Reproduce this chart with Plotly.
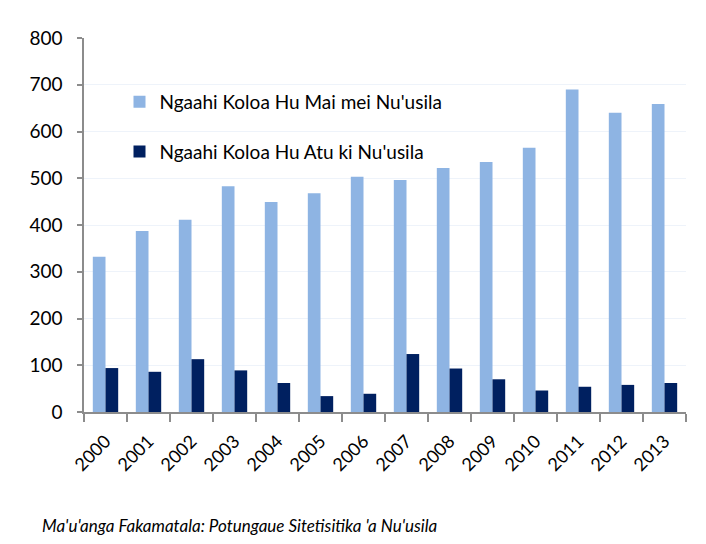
import plotly.graph_objects as go

years = ["2000", "2001", "2002", "2003", "2004", "2005", "2006", "2007",
         "2008", "2009", "2010", "2011", "2012", "2013"]
imports_nz = [332, 387, 411, 483, 449, 468, 503, 496, 522, 535, 565, 690, 640, 659]
exports_nz = [94, 86, 113, 89, 62, 34, 39, 124, 93, 70, 46, 54, 58, 62]

name_imp = "Ngaahi Koloa Hu Mai mei Nu'usila"
name_exp = "Ngaahi Koloa Hu Atu ki Nu'usila"
source = "Ma'u'anga Fakamatala: Potungaue Sitetisitika 'a Nu'usila"

FONT = "Lato, 'Open Sans', sans-serif"

# page body has an 8px margin; figure sized so it fits the window
W, H = 698, 536
L, R, T, B = 76, 20, 30, 132
PW, PH = W - L - R, H - T - B

fig = go.Figure()
fig.add_trace(go.Bar(x=years, y=imports_nz, name=name_imp,
                     marker=dict(color="#8EB4E3", line=dict(width=0)),
                     legendgroup="a"))
fig.add_trace(go.Bar(x=years, y=exports_nz, name=name_exp,
                     marker=dict(color="#002060", line=dict(width=0)),
                     legendgroup="b"))

fig.update_layout(
    width=W, height=H,
    margin=dict(l=L, r=R, t=T, b=B),
    paper_bgcolor="white", plot_bgcolor="white",
    barmode="group", bargap=0.41, bargroupgap=0,
    font=dict(family=FONT, color="#000000", size=18),
    showlegend=True,
    legend=dict(x=(111.5 - L) / PW, y=(PH + T - 75) / PH,
                xanchor="left", yanchor="top",
                bgcolor="rgba(0,0,0,0)", font=dict(size=19, family=FONT),
                tracegroupgap=22, itemwidth=30),
    xaxis=dict(type="category", tickangle=-45, showline=True,
               linecolor="#8C8C8C", linewidth=1.5, ticks="outside",
               tickson="boundaries", ticklen=8, tickcolor="#8C8C8C",
               tickwidth=1.5, showgrid=False, ticklabelstandoff=10,
               tickfont=dict(size=18, family=FONT)),
    yaxis=dict(range=[0, 800], dtick=100, showline=True,
               linecolor="#8C8C8C", linewidth=1.5, ticks="outside",
               ticklen=5, tickcolor="#8C8C8C", tickwidth=1.5,
               showgrid=True, gridcolor="#EEF3FA", gridwidth=1,
               zeroline=False, ticklabelstandoff=11,
               tickfont=dict(size=19, family=FONT)),
    annotations=[
        dict(text="<i>" + source + "</i>", xref="paper", yref="paper",
             x=(32 - L) / PW, y=(PH + T - 517) / PH,
             xanchor="left", yanchor="middle", showarrow=False,
             font=dict(size=17, family=FONT, color="#000000")),
    ],
)

fig.write_html("out.html")
